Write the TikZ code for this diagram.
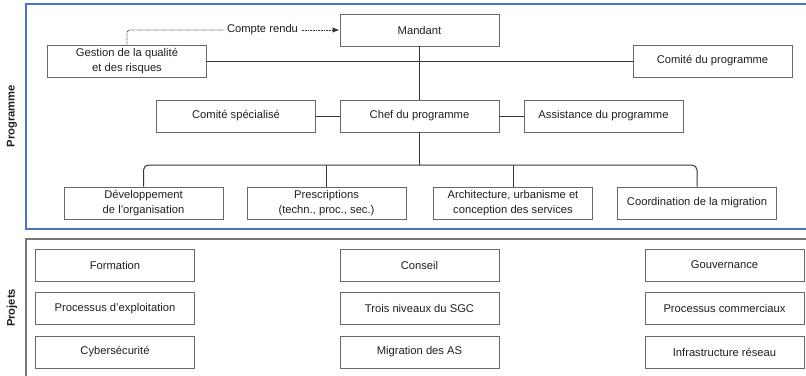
\documentclass[tikz,border=0pt]{standalone}
\usepackage{fontspec}
\setmainfont{Liberation Sans}
\usetikzlibrary{arrows.meta}
\definecolor{framblue}{RGB}{72,116,200}
\definecolor{framgray}{RGB}{120,120,120}
\definecolor{boxgray}{RGB}{105,105,105}
\definecolor{linegray}{RGB}{55,55,55}
\begin{document}
\begin{tikzpicture}[x=1pt,y=-1pt,
    every node/.style={font=\fontsize{11.2}{14.3}\selectfont,text=black!88},
    unit/.style={draw=boxgray,line width=0.9pt,minimum width=159pt,minimum height=32pt,align=center,inner sep=2pt},
    link/.style={draw=linegray,line width=1pt},
    side/.style={rotate=90,font=\fontsize{11.2}{14}\selectfont\bfseries}]
  \useasboundingbox (0,0) rectangle (806,375);
  \clip (0,0) rectangle (806,375);
  % frames
  \draw[framblue,line width=1.1pt] (26,4) rectangle (815,229);
  \draw[framgray,line width=1.3pt] (26,239) rectangle (815,385);
  \node[side] (prog) at (12,116) {Programme};
  \node[side] (proj) at (12,308) {Projets};
  % programme
  \draw
    (419.5,30) node[unit] (mandant){Mandant}
    (127,61) node[unit] (gestion){Gestion de la qualité\\et des risques}
    (712.5,61) node[unit] (cprog){Comité du programme}
    (236,116) node[unit] (cspec){Comité spécialisé}
    (419.5,116) node[unit] (chef){Chef du programme}
    (603.5,116) node[unit] (assist){Assistance du programme}
    (143.5,203) node[unit] (dev){Développement\\de l'organisation}
    (326.5,203) node[unit] (presc){Prescriptions\\(techn., proc., sec.)}
    (513,203) node[unit] (archi){Architecture, urbanisme et\\conception des services}
    (697,203) node[unit] (coord){Coordination de la migration};
  \node (cr) at (262.5,30) {Compte rendu};
  \coordinate (bus) at (419.5,165);
  % projets
  \draw
    (115,265) node[unit] (form){Formation}
    (115,308.5) node[unit] (exploit){Processus d'exploitation}
    (115,352) node[unit] (cyber){Cybersécurité}
    (419.5,265) node[unit] (conseil){Conseil}
    (419.5,308.5) node[unit] (sgc){Trois niveaux du SGC}
    (419.5,352) node[unit] (migr){Migration des AS}
    (724.5,265) node[unit] (gouv){Gouvernance}
    (724.5,308.5) node[unit] (comm){Processus commerciaux}
    (724.5,352) node[unit] (infra){Infrastructure réseau};
  \begin{scope}[link]
    \draw (gestion) to (cprog);
    \draw (mandant) to (chef);
    \draw (cspec) to (chef);
    \draw (chef) to (assist);
    \draw (chef) to (bus);
    \draw[rounded corners=5pt] (dev.north) |- (bus) -| (coord.north);
    \draw (presc.north) to (presc.north |- bus);
    \draw (archi.north) to (archi.north |- bus);
  \end{scope}
  \begin{scope}[linegray,line width=0.8pt,dash pattern=on 0.8pt off 0.8pt]
    \draw[rounded corners=3pt] (gestion.north) |- (cr.west);
    \draw[-{Latex[length=7pt,width=5.5pt]}] (cr.east) to (mandant.west);
  \end{scope}
\end{tikzpicture}
\end{document}
